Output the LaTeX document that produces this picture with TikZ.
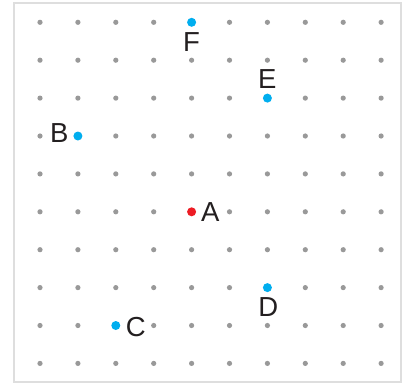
\documentclass[tikz,border=0pt]{standalone}
\usepackage{fontspec}
\setmainfont{Liberation Sans}
\definecolor{dotgray}{HTML}{999999}
\definecolor{ptblue}{HTML}{00AEEF}
\definecolor{ptred}{HTML}{ED1C24}
\definecolor{frame}{HTML}{DEDEDE}
\definecolor{ink}{HTML}{231F20}
\begin{document}
\begin{tikzpicture}[x=1pt,y=-1pt,
  griddot/.style={circle,fill=dotgray,inner sep=0pt,minimum size=5.2pt},
  bluept/.style={circle,fill=ptblue,inner sep=0pt,minimum size=9pt},
  redpt/.style={circle,fill=ptred,inner sep=0pt,minimum size=9pt},
  lbl/.style={inner sep=0pt,text=ink,font=\fontsize{27.5}{27.5}\selectfont}]
\useasboundingbox (0,0) rectangle (406,389);
\draw[frame,line width=2.2pt,fill=white] (14,3) rectangle (401,382);
\foreach \i in {0,...,9}{
  \foreach \j in {0,...,9}{
    \node[griddot] (g\i\j) at ({40+37.9*\i},{22.3+37.9*\j}) {};
  }
}
\node[bluept] (F) at (g40) {};
\node[bluept] (E) at (g62) {};
\node[bluept] (B) at (g13) {};
\node[redpt]  (A) at (g45) {};
\node[bluept] (D) at (g67) {};
\node[bluept] (C) at (g28) {};
\node[lbl] (Fl) at ([shift={(0,20)}]F) {F};
\node[lbl] (El) at ([shift={(0,-19.5)}]E) {E};
\node[lbl] (Bl) at ([shift={(-18.5,-2.5)}]B) {B};
\node[lbl] (Al) at ([shift={(18.7,0.5)}]A) {A};
\node[lbl] (Dl) at ([shift={(1,19.5)}]D) {D};
\node[lbl] (Cl) at ([shift={(20,1.2)}]C) {C};
\end{tikzpicture}
\end{document}
